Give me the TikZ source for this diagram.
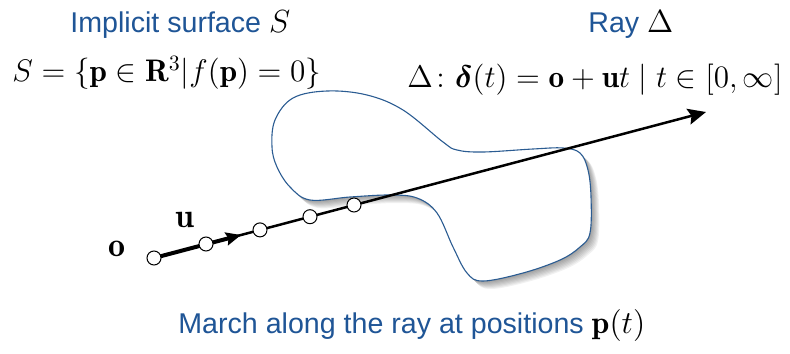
\RequirePackage{fix-cm}
\documentclass[tikz,border=0pt]{standalone}
\usepackage{amsmath}
\usepackage{bm}
\usepackage{fontspec}
\usepackage{tikz}
\usetikzlibrary{arrows.meta, positioning}
\newfontfamily\labelfont{Liberation Sans}
\definecolor{titleblue}{HTML}{1F5596}
\definecolor{surfblue}{HTML}{2B5C92}
\newcommand{\blackmath}[1]{\textcolor{black}{\fontsize{16}{18}\selectfont$#1$}}

\begin{document}
\begin{tikzpicture}[
    x=0.5pt, y=-0.5pt,
    ttl/.style={font=\labelfont\fontsize{14.3}{17}\selectfont, text=titleblue, inner sep=0pt, anchor=base west},
    eqn/.style={font=\fontsize{15.6}{18}\selectfont, text=black, inner sep=0pt, anchor=base west},
    vec/.style={font=\fontsize{17}{20}\selectfont, inner sep=0pt},
    sample/.style={circle, draw=black, fill=white, line width=0.5pt, minimum size=7pt, inner sep=0pt},
    ray/.style={line width=1.25pt, -{Stealth[length=9pt, width=8pt, inset=1.5pt]}},
    step arr/.style={line width=2pt, -{Stealth[length=7.5pt, width=6.5pt, inset=1pt]}},
    surf/.style={fill=white, draw=surfblue, line width=0.55pt}
]
    \useasboundingbox (0,0) rectangle (790,353);

    % === implicit surface ===
    \def\surfpath{plot[smooth cycle, tension=0.6] coordinates {
        (327,91) (367,95) (403,110) (443,142) (457,150) (483,152) (533,149)
        (563,148) (580,153) (588,170) (591,197) (590,233) (580,247) (560,260)
        (523,273) (483,281) (467,273) (453,247) (437,213) (417,198) (390,195)
        (350,197) (310,200) (290,187) (277,167) (272,147) (275,120) (293,98)}}
    \foreach \d in {1,...,8}
        \fill[black, opacity=0.055, shift={(\d*1.0,\d*1.0)}] \surfpath;
    \path[surf] \surfpath;

    % === ray ===
    \coordinate (origin) at (154,258);
    \coordinate (ustep) at (241,235);
    \coordinate (rayend) at (706,112);
    \draw[ray] (origin) -- (rayend);
    \draw[step arr] (origin) -- (ustep);

    % --- sample positions ---
    \node[sample] (p0) at (origin) {};
    \node[sample] (p1) at (206,244) {};
    \node[sample] (p2) at (260,229.9) {};
    \node[sample] (p3) at (310,216.7) {};
    \node[sample] (p4) at (354,205) {};

    \node[vec] (olbl) at (117,249) {$\mathbf{o}$};
    \node[vec] (ulbl) at (185,220) {$\mathbf{u}$};

    % === labels ===
    \node[ttl] (surftitle) at (70,33) {Implicit surface \blackmath{S}};
    \node[eqn] (surfeq) at (12,82) {$S=\{\mathbf{p}\in\mathbf{R}^3|f(\mathbf{p})=0\}$};
    \node[ttl] (raytitle) at (588,33) {Ray \blackmath{\Delta}};
    \node[eqn] (rayeq) at (407,88) {$\Delta\colon\bm{\delta}(t)=\mathbf{o}+\mathbf{u}t\mid t\in[0,\infty]$};
    \node[ttl] (march) at (178,333) {March along the ray at positions \blackmath{\mathbf{p}(t)}};
\end{tikzpicture}
\end{document}
